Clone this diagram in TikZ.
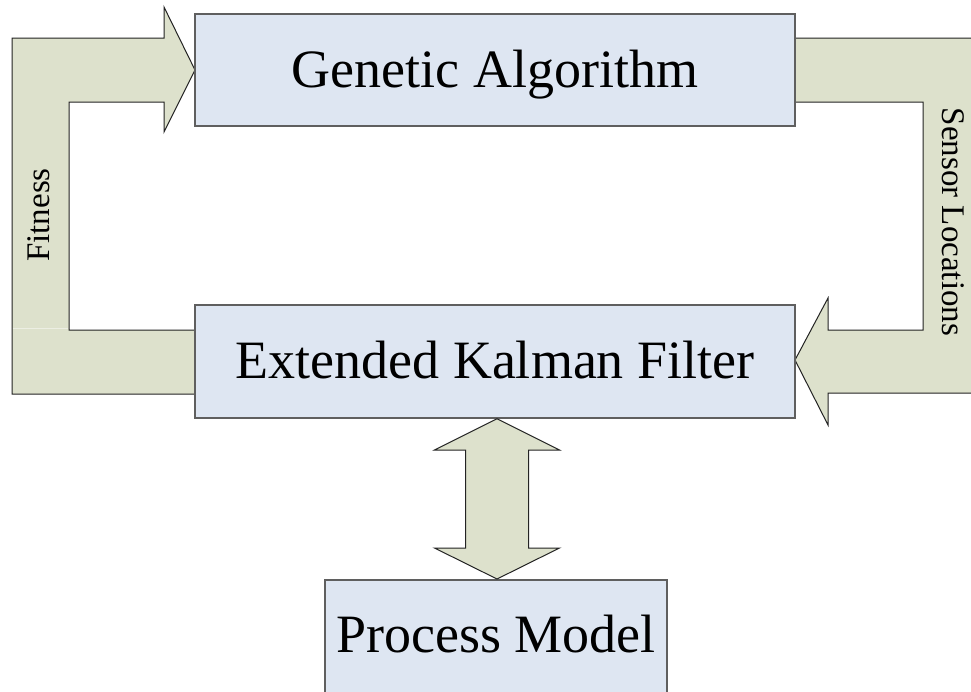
\documentclass[tikz,border=0pt]{standalone}
\usepackage{fontspec}
\setmainfont{Liberation Serif}
\definecolor{boxfill}{RGB}{222,230,242}
\definecolor{arrowfill}{RGB}{221,225,204}
\definecolor{boxline}{RGB}{95,95,95}
\definecolor{arrowline}{RGB}{35,35,35}
\begin{document}
\begin{tikzpicture}[x=1pt,y=-1pt,
  blockbox/.style={draw=boxline, fill=boxfill, line width=1.5pt, inner sep=0pt,
    font=\fontsize{54}{60}\selectfont, text height=40pt, text depth=6pt},
  blockarrow/.style={draw=arrowline, fill=arrowfill, line width=1pt, line join=miter},
  arrowlabel/.style={font=\fontsize{33}{38}\selectfont, inner sep=0pt}]
\clip (0,0) rectangle (971,691);
\fill[white] (0,0) rectangle (971,691);
% Fitness arrow
\draw[blockarrow] (195,394) -- (12,394) -- (12,38) -- (164,38) -- (164,7) -- (195,70)
  -- (164,132) -- (164,102) -- (69,102) -- (69,330) -- (195,330) -- cycle;
\draw[white, opacity=0.45, line width=0.8pt] (12.6,328) -- (68.4,328);
% Sensor Locations arrow
\draw[blockarrow] (795,38) -- (990,38) -- (990,393) -- (828,393) -- (828,425) -- (795,360)
  -- (828,298) -- (828,330) -- (923,330) -- (923,102) -- (795,102) -- cycle;
% boxes
\node[blockbox, minimum width=600pt, minimum height=112pt] (GA) at (495,70) {Genetic Algorithm};
\node[blockbox, minimum width=600pt, minimum height=113pt] (EKF) at (495,361.5) {Extended Kalman Filter};
\node[blockbox, minimum width=342pt, minimum height=130pt, anchor=north, text depth=24pt] (PM) at (496,579) {Process Model};
% double arrow
\draw[blockarrow] (EKF.south -| 497,0) -- (559.5,450) -- (528.5,450) -- (528.5,548) -- (559.5,548)
  -- (PM.north -| 497,0) -- (434.5,548) -- (465.5,548) -- (465.5,450) -- (434.5,450) -- cycle;
% labels
\node[arrowlabel, rotate=90] (fit) at (39,215) {Fitness};
\node[arrowlabel, rotate=-90] (sen) at (953,222) {Sensor Locations};
\end{tikzpicture}
\end{document}
